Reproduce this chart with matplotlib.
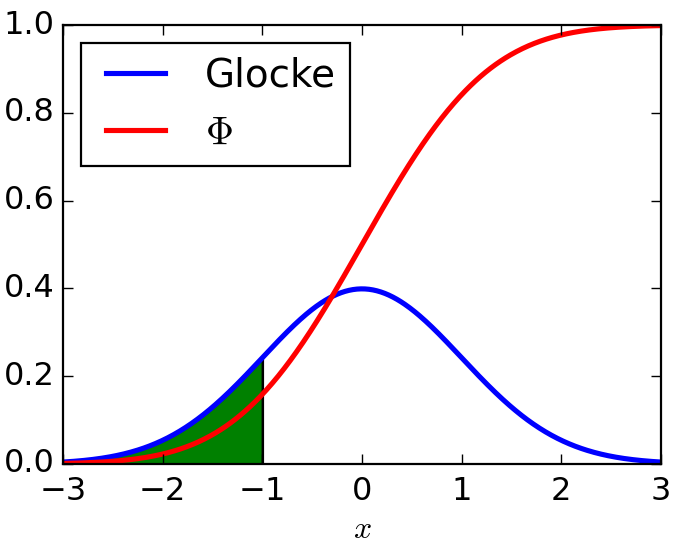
import numpy as np
import matplotlib
matplotlib.use('Agg')
import matplotlib.pyplot as plt
from math import erf

# standard normal: density and distribution function
MU = 0.0
SIGMA = 1.0
X_MIN, X_MAX = -3.0, 3.0
FILL_UPTO = -1.0
LABELS = ['Glocke', r'$\Phi$']


def glocke(x):
    return np.exp(-0.5 * ((x - MU) / SIGMA) ** 2) / (SIGMA * np.sqrt(2 * np.pi))


def phi(x):
    return np.array([0.5 * (1 + erf((v - MU) / (SIGMA * np.sqrt(2)))) for v in x])


plt.style.use('classic')
plt.rcParams['font.size'] = 23
plt.rcParams['mathtext.fontset'] = 'cm'

x = np.linspace(X_MIN, X_MAX, 601)
fig = plt.figure(figsize=(6.74, 5.45), dpi=100, facecolor='white')
ax = fig.add_axes([63 / 674, 1 - 464 / 545, 598 / 674, 439 / 545])

ax.plot(x, glocke(x), color='b', lw=3.7, label=LABELS[0])
ax.plot(x, phi(x), color='r', lw=3.7, label=LABELS[1])

xf = x[x <= FILL_UPTO + 1e-9]
ax.fill_between(xf, 0, glocke(xf), facecolor='green', edgecolor='black', lw=1.8, zorder=1)

ax.set_xlim(X_MIN, X_MAX)
ax.set_ylim(0, 1)
ax.set_xticks(np.arange(-3, 4, 1))
ax.set_yticks(np.arange(0, 1.01, 0.2))
ax.set_xlabel(r'$x$', fontsize=23, labelpad=5)
ax.tick_params(labelsize=23, length=7, width=1)
ax.tick_params(axis='x', pad=9)
ax.tick_params(axis='y', pad=6)
for s in ax.spines.values():
    s.set_linewidth(1.6)

leg = ax.legend(loc='upper left', fontsize=28, handlelength=2.1, handletextpad=0.73,
                borderpad=0.36, labelspacing=0.5, borderaxespad=0.45)
leg.get_frame().set_linewidth(1.6)

fig.savefig('out.png', dpi=100, facecolor='white')
